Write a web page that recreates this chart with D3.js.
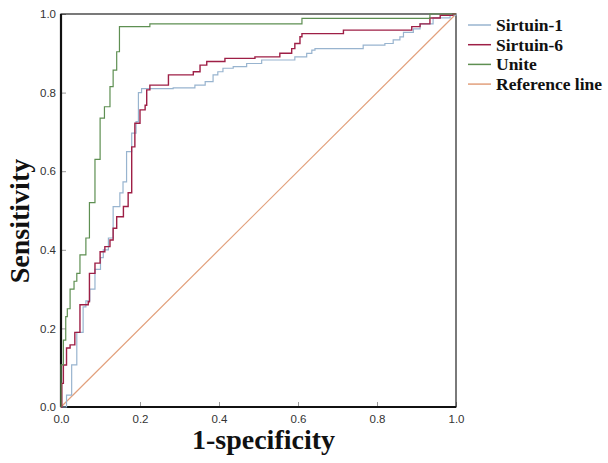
<!DOCTYPE html>
<html>
<head>
<meta charset="utf-8">
<script src="https://cdn.jsdelivr.net/npm/d3@7"></script>
<style>
  body { margin: 0; background: #fff; }
</style>
</head>
<body>
<div id="chart"></div>
<script>
// ROC curves, each point = top of a vertical run (drawn with curveStepAfter)
var sirt1Fpr = [0, 0.014, 0.027, 0.04, 0.056, 0.063, 0.073, 0.086, 0.1, 0.107, 0.12, 0.132, 0.149, 0.157, 0.166, 0.179, 0.19, 0.196, 0.204, 0.284, 0.339, 0.365, 0.385, 0.397, 0.41, 0.436, 0.47, 0.508, 0.592, 0.622, 0.635, 0.643, 0.765, 0.82, 0.841, 0.858, 0.867, 0.892, 0.909, 0.942, 0.985, 1];
var sirt1Tpr = [0, 0.03, 0.107, 0.19, 0.255, 0.27, 0.3, 0.35, 0.38, 0.4, 0.43, 0.51, 0.545, 0.573, 0.65, 0.697, 0.726, 0.8, 0.81, 0.812, 0.819, 0.828, 0.845, 0.853, 0.862, 0.866, 0.874, 0.883, 0.891, 0.9, 0.908, 0.912, 0.921, 0.925, 0.934, 0.942, 0.953, 0.962, 0.975, 0.99, 0.997, 1];

var sirt6Fpr = [0, 0.002, 0.006, 0.014, 0.023, 0.035, 0.048, 0.069, 0.072, 0.086, 0.099, 0.111, 0.124, 0.132, 0.141, 0.158, 0.17, 0.179, 0.187, 0.2, 0.213, 0.217, 0.225, 0.272, 0.327, 0.335, 0.352, 0.369, 0.415, 0.491, 0.554, 0.584, 0.592, 0.605, 0.61, 0.715, 0.888, 0.909, 0.934, 0.96, 0.992, 1];
var sirt6Tpr = [0, 0.06, 0.107, 0.15, 0.158, 0.19, 0.26, 0.268, 0.34, 0.366, 0.395, 0.408, 0.425, 0.455, 0.484, 0.51, 0.545, 0.662, 0.722, 0.756, 0.768, 0.807, 0.819, 0.845, 0.845, 0.853, 0.87, 0.879, 0.887, 0.891, 0.9, 0.912, 0.925, 0.942, 0.95, 0.959, 0.968, 0.975, 0.99, 0.997, 1, 1];

var uniteFpr = [0, 0, 0.006, 0.012, 0.016, 0.023, 0.033, 0.04, 0.048, 0.063, 0.072, 0.086, 0.099, 0.11, 0.124, 0.132, 0.141, 0.148, 0.225, 0.61, 0.934, 1];
var uniteTpr = [0, 0.107, 0.17, 0.23, 0.25, 0.3, 0.32, 0.34, 0.387, 0.43, 0.52, 0.63, 0.735, 0.764, 0.815, 0.857, 0.904, 0.968, 0.975, 0.989, 1, 1];

var seriesNames = ["Sirtuin-1", "Sirtuin-6", "Unite", "Reference line"];
var seriesColors = ["#98b4cf", "#9e1f46", "#5e8f52", "#e2a07c"];
var tickValues = [0, 0.2, 0.4, 0.6, 0.8, 1.0];

var svgWidth = 608, svgHeight = 463;
var margin = { top: 14, left: 61, right: 152, bottom: 56 };
var chartWidth = svgWidth - margin.left - margin.right;   // 395
var chartHeight = svgHeight - margin.top - margin.bottom; // 393

var svg = d3.select("#chart").append("svg")
  .attr("width", svgWidth)
  .attr("height", svgHeight);

var chartGroup = svg.append("g")
  .attr("transform", `translate(${margin.left}, ${margin.top})`);

var xScale = d3.scaleLinear().domain([0, 1]).range([0, chartWidth]);
var yScale = d3.scaleLinear().domain([0, 1]).range([chartHeight, 0]);

// inward ticks
var xAxis = d3.axisBottom(xScale).tickValues(tickValues).tickFormat(d3.format(".1f")).tickSizeInner(-5).tickSizeOuter(0).tickPadding(8);
var yAxis = d3.axisLeft(yScale).tickValues(tickValues).tickFormat(d3.format(".1f")).tickSizeInner(-5).tickSizeOuter(0).tickPadding(5);

var gx = chartGroup.append("g").attr("transform", `translate(0, ${chartHeight})`).call(xAxis);
var gy = chartGroup.append("g").call(yAxis);
[gx, gy].forEach(function(g) {
  g.select(".domain").remove();
  g.selectAll(".tick line").attr("stroke", "#999");
  g.selectAll(".tick text").attr("fill", "#333").style("font-family", "Liberation Sans, Arial, sans-serif").style("font-size", "11.5px");
});

// frame
chartGroup.append("rect")
  .attr("width", chartWidth).attr("height", chartHeight)
  .attr("fill", "none").attr("stroke", "#222").attr("stroke-width", 1.2);
chartGroup.append("line").attr("x1", 0).attr("x2", 0).attr("y1", 0).attr("y2", chartHeight)
  .attr("stroke", "#111").attr("stroke-width", 2.2);
chartGroup.append("line").attr("x1", 0).attr("x2", chartWidth).attr("y1", chartHeight).attr("y2", chartHeight)
  .attr("stroke", "#111").attr("stroke-width", 2.2);

// reference line
chartGroup.append("line")
  .attr("x1", xScale(0)).attr("y1", yScale(0))
  .attr("x2", xScale(1)).attr("y2", yScale(1))
  .attr("stroke", seriesColors[3]).attr("stroke-width", 1.2);

var stepLine = d3.line()
  .x(d => xScale(d[0]))
  .y(d => yScale(d[1]))
  .curve(d3.curveStepAfter);

var curves = [
  [sirt1Fpr, sirt1Tpr],
  [sirt6Fpr, sirt6Tpr],
  [uniteFpr, uniteTpr]
];

curves.forEach(function(c, i) {
  var pts = c[0].map((x, j) => [x, c[1][j]]);
  chartGroup.append("path")
    .datum(pts)
    .attr("d", stepLine)
    .attr("fill", "none")
    .attr("stroke", seriesColors[i])
    .attr("stroke-width", i == 1 ? 1.4 : 1.2);
});

// legend
var legend = svg.append("g").attr("transform", "translate(468, 25)");
seriesNames.forEach(function(name, i) {
  var row = legend.append("g").attr("transform", `translate(0, ${i * 19.7})`);
  row.append("line").attr("x1", 0).attr("x2", 23).attr("y1", 0).attr("y2", 0)
    .attr("stroke", seriesColors[i]).attr("stroke-width", 1.5);
  row.append("text").attr("x", 28).attr("y", 6)
    .text(name)
    .style("font-family", "Liberation Serif, Times New Roman, serif")
    .style("font-weight", "bold")
    .style("font-size", "17.5px")
    .attr("fill", "#111");
});

// axis titles
svg.append("text")
  .attr("x", margin.left + chartWidth / 2 + 5)
  .attr("y", 449)
  .attr("text-anchor", "middle")
  .text("1-specificity")
  .style("font-family", "Liberation Serif, Times New Roman, serif")
  .style("font-weight", "bold")
  .style("font-size", "28px")
  .attr("fill", "#111");

svg.append("text")
  .attr("transform", "translate(29, 221) rotate(-90)")
  .attr("text-anchor", "middle")
  .text("Sensitivity")
  .style("font-family", "Liberation Serif, Times New Roman, serif")
  .style("font-weight", "bold")
  .style("font-size", "28px")
  .attr("fill", "#111");
</script>
</body>
</html>
